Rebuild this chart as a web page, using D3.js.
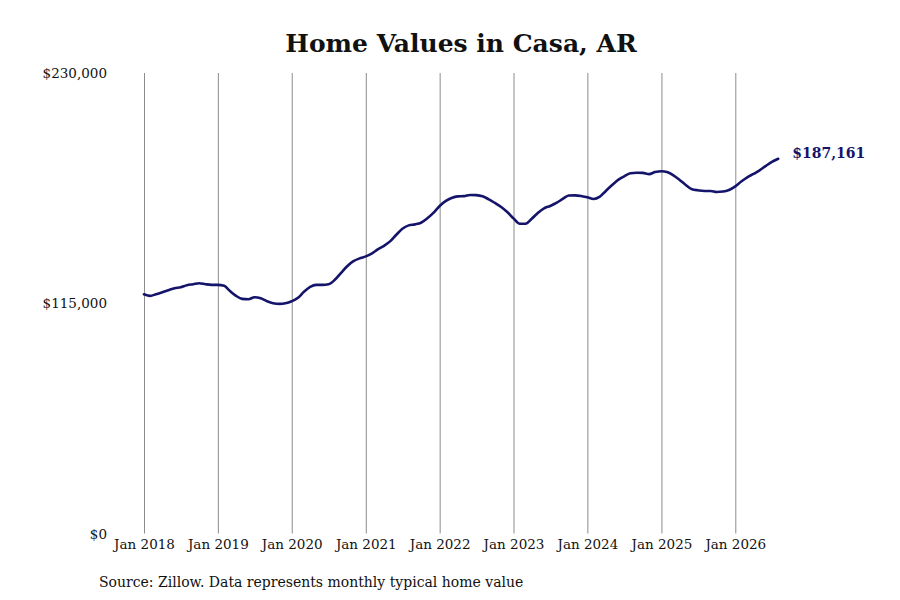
<!DOCTYPE html>
<html lang="en">
<head>
<meta charset="utf-8">
<title>Home Values in Casa, AR</title>
<script src="https://cdn.jsdelivr.net/npm/d3@7"></script>
<style>
  body { margin: 0; background: #fff; }
  text { font-family: "DejaVu Serif", serif; }
</style>
</head>
<body>
<div id="chart"></div>
<script>
// monthly typical home value, Jan 2018 .. Aug 2026
var startMonth = "2018-01";
var values = [
  119500, 118700, 119500, 120500, 121500, 122500, 123000, 124000, 124500, 125000, 124500, 124200,
  124200, 123700, 121200, 118700, 117200, 117000, 118000, 117500, 116000, 115000, 114700, 115000,
  116000, 117700, 120700, 123200, 124200, 124200, 124500, 126700, 130200, 133500, 136000, 137400,
  138400, 139900, 141900, 143700, 145900, 149200, 152200, 153900, 154400, 155200, 157400, 160100,
  163600, 166100, 167600, 168400, 168500, 169100, 169000, 168400, 166900, 165100, 163100, 160600,
  157400, 154700, 154700, 157200, 160100, 162400, 163600, 165100, 167100, 168800, 168900, 168600,
  167900, 167100, 168100, 171100, 173900, 176600, 178400, 179900, 180200, 180100, 179500, 180500,
  180900, 180400, 178900, 176600, 174100, 171900, 171400, 171100, 171100, 170600, 170800, 171600,
  173400, 175900, 177900, 179600, 181400, 183600, 185600, 187161
];
var yTicks = [0, 115000, 230000];
var xTickYears = [2018, 2019, 2020, 2021, 2022, 2023, 2024, 2025, 2026];

var title = "Home Values in Casa, AR";
var source = "Source: Zillow. Data represents monthly typical home value";

var width = 900, height = 600;
var margin = { top: 73, right: 122, bottom: 66, left: 144 };

var parse = d3.timeParse("%Y-%m");
var t0 = parse(startMonth);
var data = values.map(function(v, i) {
  return { date: d3.timeMonth.offset(t0, i), value: v };
});

var svg = d3.select("#chart").append("svg")
  .attr("width", width)
  .attr("height", height);

// Jan 2018 at the left edge, Jan 2026 at x=735
var x = d3.scaleTime()
  .domain([new Date(2018, 0, 1), new Date(2026, 0, 1)])
  .range([margin.left, 735.3]);

var y = d3.scaleLinear()
  .domain([0, 230000])
  .range([height - margin.bottom - 0.5, margin.top]);

// vertical grid lines at each January
var xAxis = d3.axisBottom(x)
  .tickValues(xTickYears.map(function(yr) { return new Date(yr, 0, 1); }))
  .tickSize(0)
  .tickFormat(d3.timeFormat("%b %Y"));

var gx = svg.append("g")
  .attr("transform", "translate(0," + y(0) + ")")
  .call(xAxis);
gx.select(".domain").remove();
gx.selectAll(".tick line")
  .attr("y1", 0)
  .attr("y2", -(y(0) - margin.top))
  .attr("stroke", "#8c8c8c")
  .attr("stroke-width", 1);
gx.selectAll(".tick text")
  .attr("y", 6)
  .attr("dy", "0.71em")
  .attr("fill", "#111")
  .style("font-size", "13.5px")
  .style("font-family", "DejaVu Serif, serif");

var yAxis = d3.axisLeft(y)
  .tickValues(yTicks)
  .tickSize(0)
  .tickFormat(function(d) { return "$" + d3.format(",")(d); });

var gy = svg.append("g")
  .attr("transform", "translate(107,0)")
  .call(yAxis);
gy.select(".domain").remove();
gy.selectAll(".tick text")
  .attr("x", 0)
  .attr("dy", "0.35em")
  .attr("fill", "#111")
  .style("font-size", "13.5px")
  .style("font-family", "DejaVu Serif, serif");

var line = d3.line()
  .x(function(d) { return x(d.date); })
  .y(function(d) { return y(d.value); })
  .curve(d3.curveMonotoneX);

svg.append("path")
  .datum(data)
  .attr("fill", "none")
  .attr("stroke", "#15146b")
  .attr("stroke-width", 2.6)
  .attr("stroke-linejoin", "round")
  .attr("stroke-linecap", "round")
  .attr("d", line);

var last = data[data.length - 1];
svg.append("text")
  .attr("x", x(last.date) + 14)
  .attr("y", y(last.value) - 1)
  .attr("fill", "#15146b")
  .style("font-size", "14px")
  .style("font-weight", "bold")
  .text("$" + d3.format(",")(last.value));

svg.append("text")
  .attr("x", 461)
  .attr("y", 52)
  .attr("text-anchor", "middle")
  .attr("fill", "#111")
  .style("font-size", "25px")
  .style("font-weight", "bold")
  .text(title);

svg.append("text")
  .attr("x", 99)
  .attr("y", 587)
  .attr("fill", "#111")
  .style("font-size", "14px")
  .text(source);
</script>
</body>
</html>
